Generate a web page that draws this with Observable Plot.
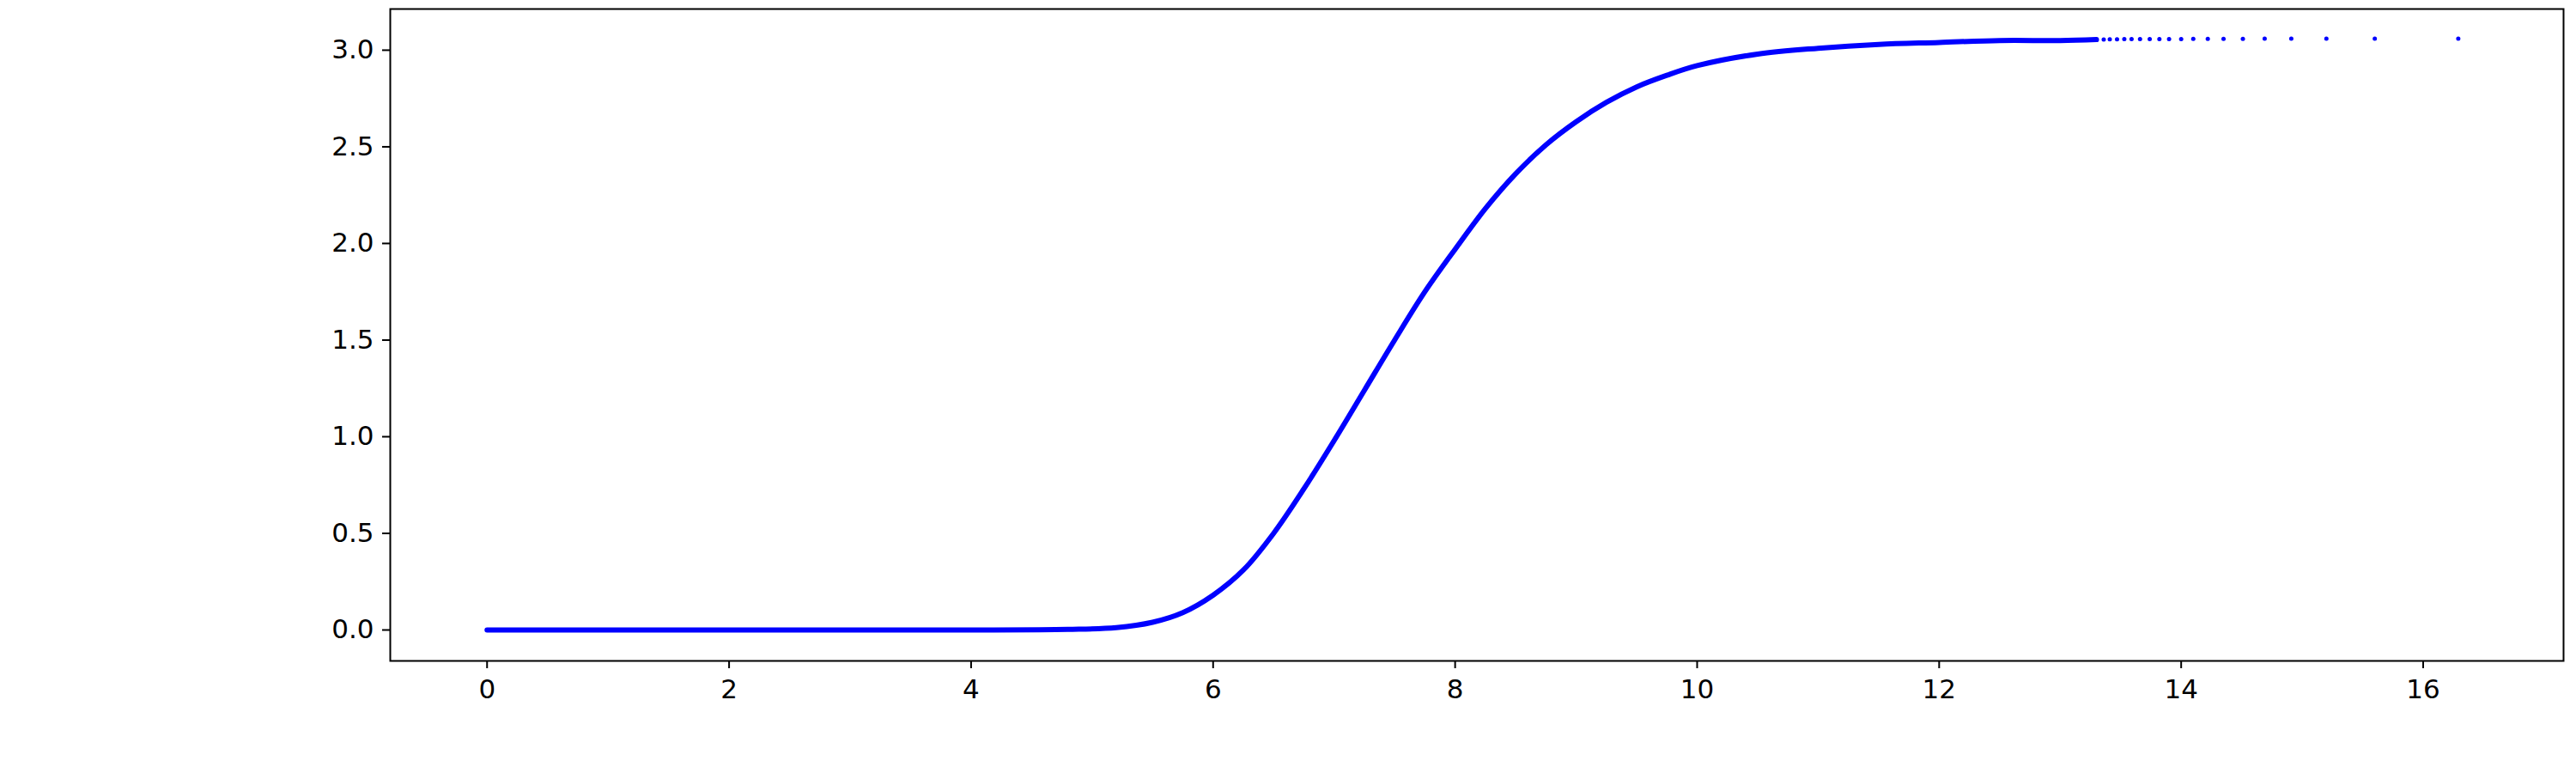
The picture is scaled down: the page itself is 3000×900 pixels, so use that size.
<!DOCTYPE html>
<html><head><meta charset="utf-8">
<script src="https://cdn.jsdelivr.net/npm/d3@7"></script>
<script src="https://cdn.jsdelivr.net/npm/@observablehq/plot@0.6"></script>
<style>body{margin:0;background:#fff}</style>
</head><body><div id="chart"></div>
<script>
const curveX = [0,1,2,3,4,4.8,5.2,5.5,5.75,6,6.25,6.5,6.75,7,7.25,7.5,7.75,8,8.25,8.5,8.75,9,9.25,9.5,9.75,10,10.5,11,11.5,12,12.5,13,13.3];
const curveY = [0,0,0,0,0,0.003,0.012,0.04,0.09,0.18,0.31,0.5,0.73,0.98,1.24,1.5,1.75,1.97,2.18,2.36,2.51,2.63,2.73,2.81,2.87,2.92,2.98,3.01,3.03,3.04,3.05,3.05,3.055];
const tailX = [13.36,13.41,13.47,13.53,13.59,13.66,13.74,13.82,13.90,14.00,14.10,14.22,14.35,14.51,14.69,14.91,15.20,15.60,16.29];
const tailY = [3.055,3.056,3.056,3.057,3.057,3.057,3.058,3.058,3.058,3.058,3.059,3.059,3.059,3.059,3.06,3.06,3.06,3.06,3.06];
const xTicks = [0,2,4,6,8,10,12,14,16];
const yTicks = [0,0.5,1,1.5,2,2.5,3];

const curve = curveX.map((x,i)=>({x, y: curveY[i]}));
const tail = tailX.map((x,i)=>({x, y: tailY[i]}));

const chart = Plot.plot({
  width: 3000, height: 900,
  marginLeft: 454, marginRight: 15, marginTop: 10, marginBottom: 131,
  style: {fontFamily: "DejaVu Sans", fontSize: "31px", color: "#000", background: "#fff"},
  x: {domain: [-0.80, 17.16]},
  y: {domain: [-0.16, 3.213]},
  marks: [
    Plot.line(curve, {x: "x", y: "y", stroke: "#0000ff", strokeWidth: 6, curve: "catmull-rom"}),
    Plot.dot(tail, {x: "x", y: "y", r: 2.5, fill: "#0000ff"}),
    Plot.frame({stroke: "#000", strokeWidth: 2}),
    Plot.axisX({ticks: xTicks, tickFormat: d => String(d), tickSize: 9, tickPadding: 12, stroke: "#000", strokeWidth: 2, label: null}),
    Plot.axisY({ticks: yTicks, tickFormat: d => d.toFixed(1), tickSize: 9, tickPadding: 10, stroke: "#000", strokeWidth: 2, label: null})
  ]
});
document.getElementById("chart").appendChild(chart);
</script></body></html>
